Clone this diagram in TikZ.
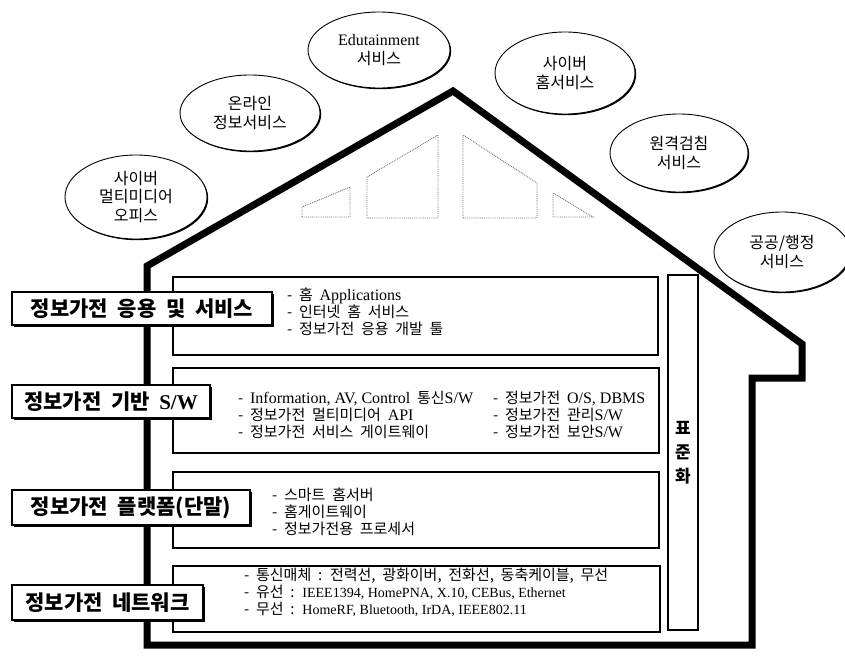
\documentclass[tikz,border=0pt]{standalone}
\usepackage{fontspec}
\setmainfont{Noto Sans CJK KR}[WordSpace=2.0]
\newfontfamily\lat{Liberation Serif}
\newfontfamily\labfont{Noto Sans CJK KR}[WordSpace=2.0]
\usetikzlibrary{shapes.geometric,shadows}
\newcommand\latb[1]{{\lat\fontsize{16}{17}\selectfont #1}}
\newcommand\lats[1]{{\lat\fontsize{14}{17}\selectfont #1}}
\begin{document}
\begin{tikzpicture}[x=1pt,y=-1pt,
  wall/.style={draw=black, line width=7pt, line join=miter},
  win/.style={draw=black!55, line width=0.9pt, densely dotted},
  svc/.style={ellipse, draw, line width=0.9pt, fill=white, inner sep=0pt, align=center,
    font=\fontsize{16}{18.5}\selectfont,
    drop shadow={shadow xshift=1.2pt, shadow yshift=-1.2pt, fill=black, opacity=1}},
  lab/.style={rectangle, draw, line width=1.4pt, fill=white, inner sep=0pt,
    font=\labfont\bfseries\fontsize{21}{22}\selectfont,
    drop shadow={shadow xshift=1.6pt, shadow yshift=-1.6pt, fill=black, opacity=1}},
  panel/.style={rectangle, draw, line width=1.1pt, fill=white, inner sep=0pt,
    drop shadow={shadow xshift=0.8pt, shadow yshift=-0.8pt, fill=black, opacity=1}},
  body/.style={anchor=west, align=left, inner sep=0pt, font=\fontsize{15}{17}\selectfont},
  stdtext/.style={align=center, inner sep=0pt, font=\bfseries\fontsize{17}{24}\selectfont}
]
\useasboundingbox (0,0) rectangle (845,656);
\fill[white] (0,0) rectangle (845,656);

% house outline
\draw[wall] (147,645) -- (147,266) -- (453,91) -- (802,344) -- (802,378)
  -- (752,378) -- (752,645) -- cycle;

% attic windows
\draw[win] (302,217) -- (302,207) -- (350,187) -- (350,217) -- cycle;
\draw[win] (367,218) -- (367,177) -- (438,135) -- (438,218) -- cycle;
\draw[win] (463,218) -- (463,135) -- (537,183) -- (537,218) -- cycle;
\draw[win] (553,217) -- (553,193) -- (593,217) -- cycle;

% service ellipses
\node[svc, minimum width=142pt, minimum height=84pt] (e1) at (136,197) {사이버\\멀티미디어\\오피스};
\node[svc, minimum width=140pt, minimum height=76pt] (e2) at (250,113) {온라인\\정보서비스};
\node[svc, minimum width=142pt, minimum height=76pt] (e3) at (379,50) {{\lat\fontsize{16}{18.5}\selectfont Edutainment}\\서비스};
\node[svc, minimum width=140pt, minimum height=82pt] (e4) at (565,73) {사이버\\홈서비스};
\node[svc, minimum width=138pt, minimum height=78pt] (e5) at (679,153) {원격검침\\서비스};
\node[svc, minimum width=136pt, minimum height=80pt] (e6) at (782,252) {공공/행정\\서비스};

% panels
\node[panel, minimum width=485pt, minimum height=78pt] (p1) at (415.5,316) {};
\node[panel, minimum width=486pt, minimum height=85pt] (p2) at (416,410.5) {};
\node[panel, minimum width=486pt, minimum height=76pt] (p3) at (416,510) {};
\node[panel, minimum width=487pt, minimum height=66pt] (p4) at (416.5,599) {};
\node[panel, minimum width=30pt, minimum height=355pt] (std) at (683,452.5) {};
\node[stdtext] (stdt) at (std.center) {표\\준\\화};

% panel texts
\node[body] (t1) at (287,312) {- 홈 \latb{Applications}\\- 인터넷 홈 서비스\\- 정보가전 응용 개발 툴};
\node[body] (t2a) at (238,415) {- \latb{Information, AV, Control} 통신\latb{S/W}\\- 정보가전 멀티미디어 \latb{API}\\- 정보가전 서비스 게이트웨이};
\node[body] (t2b) at (493,415) {- 정보가전 \latb{O/S, DBMS}\\- 정보가전 관리\latb{S/W}\\- 정보가전 보안\latb{S/W}};
\node[body] (t3) at (272,512) {- 스마트 홈서버\\- 홈게이트웨이\\- 정보가전용 프로세서};
\node[body] (t4) at (244,592) {- 통신매체 : 전력선, 광화이버, 전화선, 동축케이블, 무선\\- 유선 : \lats{IEEE1394, HomePNA, X.10, CEBus, Ethernet}\\- 무선 : \lats{HomeRF, Bluetooth, IrDA, IEEE802.11}};

% left labels
\node[lab, minimum width=260pt, minimum height=33pt] (l1) at (142,308.5) {정보가전 응용 및 서비스};
\node[lab, minimum width=198pt, minimum height=33pt] (l2) at (111,401.5) {정보가전 기반 {\lat\bfseries S/W}};
\node[lab, minimum width=238pt, minimum height=35pt] (l3) at (131,507.5) {정보가전 플랫폼(단말)};
\node[lab, minimum width=191pt, minimum height=35pt] (l4) at (107.5,602.5) {정보가전 네트워크};
\end{tikzpicture}
\end{document}
